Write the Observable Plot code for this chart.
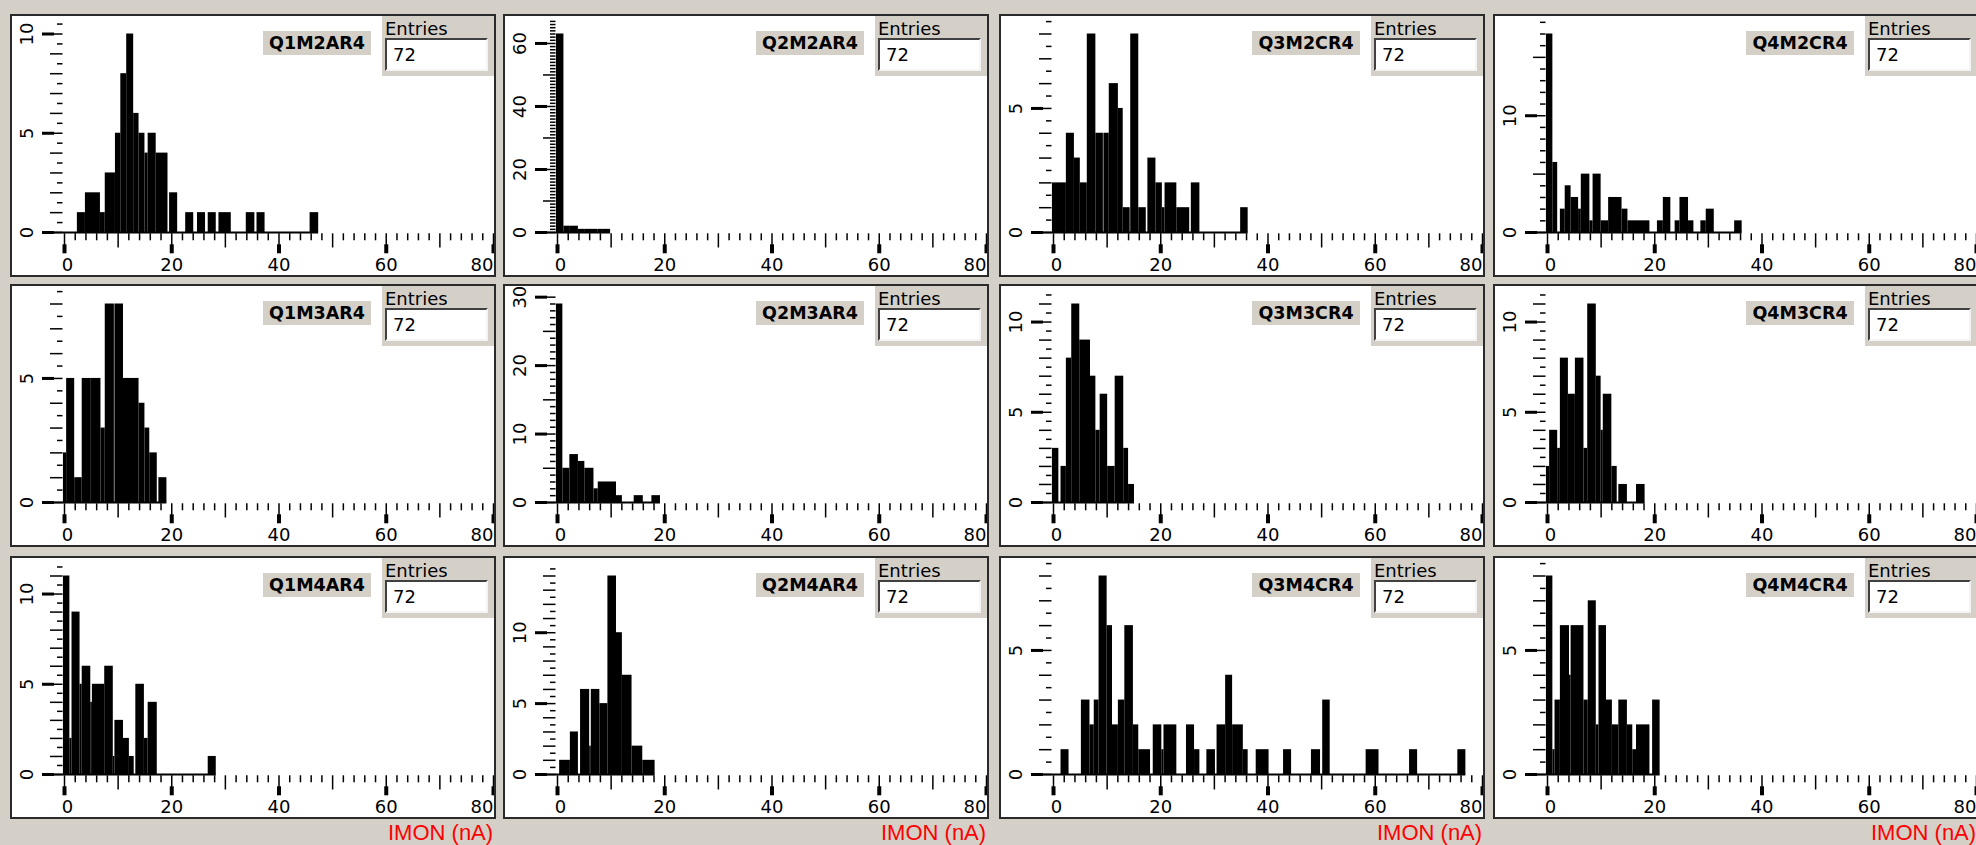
<!DOCTYPE html>
<html><head><meta charset="utf-8">
<script src="https://cdn.jsdelivr.net/npm/d3@7"></script>
<script src="https://cdn.jsdelivr.net/npm/@observablehq/plot@0.6"></script>
<style>
html,body{margin:0;padding:0;background:#d4d0c8;width:1976px;height:845px;overflow:hidden;font-family:"DejaVu Sans",sans-serif;}
.panel{position:absolute;width:486px;height:263px;background:#fff;overflow:hidden;}
.panel svg{position:absolute;left:0;top:0;}
.frame{position:absolute;left:0;top:0;width:486px;height:263px;box-sizing:border-box;border:2px solid #2a2a2a;pointer-events:none;}
.title{position:absolute;left:253px;top:17px;width:108px;height:24px;background:#d4d0c8;font:bold 17.5px "DejaVu Sans";line-height:24px;text-align:center;color:#000;white-space:nowrap;}
.stats{position:absolute;left:372px;top:2px;width:114px;height:60px;background:#d4d0c8;}
.stats .lbl{position:absolute;left:3px;top:4px;font:18px "DejaVu Sans";line-height:18px;color:#000;}
.stats .val{position:absolute;left:3px;top:22px;width:103px;height:33px;box-sizing:border-box;background:#fff;border-top:2px solid #404040;border-left:2px solid #404040;border-bottom:2px solid #f4f4f4;border-right:2px solid #f4f4f4;font:18px "DejaVu Sans";line-height:29px;padding-left:6px;color:#000;}
.xlabel{position:absolute;font:22px "Liberation Sans";color:#ff0000;line-height:22px;white-space:nowrap;}
</style></head><body>
<script>
// ---- data: histogram bars [low edge (nA), high edge (nA), entries] ----
const panelNames = ["Q1M2AR4","Q2M2AR4","Q3M2CR4","Q4M2CR4","Q1M3AR4","Q2M3AR4","Q3M3CR4","Q4M3CR4","Q1M4AR4","Q2M4AR4","Q3M4CR4","Q4M4CR4"];
const entryCounts = [72,72,72,72,72,72,72,72,72,72,72,72];
const xTickLabels = [0,20,40,60,80];
const yMajorSteps = [5,20,5,10,5,10,5,5,5,5,5,5];
const axisTitle = "IMON (nA)";

const Q1M2AR4 = [[2.4,3.9,1],[3.9,6.7,2],[6.7,7.6,1],[7.6,9.5,3],[9.5,10.5,5],[10.5,11.6,8],[11.6,12.9,10],[12.9,13.9,6],[13.9,15.0,5],[15.0,15.6,4],[15.6,17.1,5],[17.1,19.3,4],[19.6,21.1,2],[22.6,24.1,1],[24.8,26.3,1],[26.8,28.3,1],[28.8,31.1,1],[33.9,35.5,1],[35.9,37.4,1],[45.8,47.4,1]];
const Q2M2AR4 = [[-0.2,1.2,63],[1.2,2.4,2],[2.4,3.9,2],[3.9,5.2,1],[5.2,7.6,1],[7.6,8.4,1],[8.4,9.9,1]];
const Q3M2CR4 = [[-0.2,2.4,2],[2.4,3.9,4],[3.9,5.0,3],[5.0,6.3,2],[6.3,7.9,8],[7.9,9.3,4],[9.4,10.4,4],[10.4,12.1,6],[12.1,13.0,5],[13.0,14.3,1],[14.4,15.9,8],[15.9,17.3,1],[17.6,19.1,3],[19.1,20.3,2],[20.3,20.8,1],[20.8,23.0,2],[23.0,25.4,1],[25.7,27.3,2],[34.9,36.3,1]];
const Q4M2CR4 = [[-0.2,1.0,17],[1.0,1.9,6],[2.4,3.3,2],[3.3,4.4,4],[4.4,5.8,3],[5.8,6.3,2],[6.3,7.9,5],[7.9,8.5,1],[8.5,10.0,5],[10.0,11.4,1],[11.4,13.9,3],[13.9,15.0,2],[15.0,19.1,1],[20.5,21.6,1],[21.6,23.0,3],[23.8,24.7,1],[24.7,26.3,3],[26.3,27.3,1],[28.6,29.6,1],[29.6,31.1,2],[34.9,36.3,1]];
const Q1M3AR4 = [[-0.2,0.4,2],[0.4,1.9,5],[1.9,3.3,1],[3.3,5.0,5],[5.0,6.8,5],[6.8,7.6,3],[7.6,9.3,8],[9.4,11.0,8],[11.0,13.9,5],[13.9,15.0,4],[15.0,15.9,3],[15.9,17.3,2],[17.6,19.1,1]];
const Q2M3AR4 = [[-0.2,1.0,29],[1.0,2.3,5],[2.3,3.9,7],[3.9,5.1,6],[5.1,6.8,5],[6.8,7.6,2],[7.6,11.0,3],[11.0,12.1,1],[14.3,16.0,1],[17.6,19.2,1]];
const Q3M3CR4 = [[-0.2,1.0,3],[1.4,2.4,2],[2.4,3.4,8],[3.4,4.9,11],[4.9,6.9,9],[6.9,7.9,7],[7.9,8.7,4],[8.7,10.1,6],[10.1,11.5,2],[11.5,13.1,7],[13.1,14.0,3],[14.0,15.1,1]];
const Q4M3CR4 = [[-0.2,0.4,2],[0.4,1.9,4],[1.9,2.4,3],[2.4,3.9,8],[3.9,5.2,6],[5.2,6.8,8],[6.8,7.5,3],[7.5,9.1,11],[9.1,10.0,7],[10.0,10.4,4],[10.4,12.0,6],[12.0,13.0,2],[13.3,14.9,1],[16.6,18.2,1]];
const Q1M4AR4 = [[-0.2,1.0,11],[1.0,1.4,2],[1.4,2.9,9],[2.9,3.3,5],[3.3,4.9,6],[4.9,5.2,4],[5.2,7.5,5],[7.5,9.1,6],[9.1,9.4,1],[9.4,11.0,3],[11.0,12.1,2],[12.1,13.0,1],[13.3,14.9,5],[14.9,15.6,2],[15.6,17.3,4],[26.8,28.3,1]];
const Q2M4AR4 = [[0.4,2.4,1],[2.4,3.9,3],[4.3,6.0,6],[6.0,6.3,2],[6.3,7.9,6],[7.9,9.4,5],[9.4,11.0,14],[11.0,12.1,10],[12.1,13.9,7],[13.9,15.9,2],[15.9,18.2,1]];
const Q3M4CR4 = [[1.4,2.9,1],[5.2,6.8,3],[6.8,7.6,2],[7.6,8.5,3],[8.5,10.0,8],[10.0,11.0,6],[11.0,12.1,2],[12.1,13.3,3],[13.3,14.9,6],[14.9,15.9,2],[15.9,18.1,1],[18.6,20.2,2],[20.2,20.6,1],[20.6,23.0,2],[24.8,26.3,2],[26.3,27.3,1],[28.6,30.2,1],[30.5,32.1,2],[32.1,33.4,4],[33.4,35.4,2],[35.4,36.3,1],[37.8,40.2,1],[42.9,44.4,1],[48.1,49.8,1],[50.2,51.6,3],[58.3,60.7,1],[66.4,67.9,1],[75.4,76.9,1]];
const Q4M4CR4 = [[-0.2,1.0,8],[1.0,1.4,1],[1.4,2.4,3],[2.4,4.1,6],[4.1,4.4,4],[4.4,6.8,6],[6.8,7.6,3],[7.6,9.1,7],[9.1,9.6,2],[9.6,11.0,6],[11.0,12.1,3],[12.1,13.3,2],[13.3,14.9,3],[14.9,15.9,2],[15.9,16.6,1],[16.6,19.1,2],[19.6,21.0,3]];

const panelData = [Q1M2AR4,Q2M2AR4,Q3M2CR4,Q4M2CR4,Q1M3AR4,Q2M3AR4,Q3M3CR4,Q4M3CR4,Q1M4AR4,Q2M4AR4,Q3M4CR4,Q4M4CR4];

// ---- layout ----
const colLeft = [10, 503, 999, 1493];
const rowTop = [14, 284, 556];
const W = 486, H = 263, ML = 54, MR = 3, MT = 6, MB = 45;
const base = H - MB;          // baseline pixel (local)
const maxBarTop = 19.5;       // pixel where the tallest bar ends
const font = "DejaVu Sans";

function makePlot(data, M) {
  const max = d3.max(data, d => d[2]);
  const ky = (base - maxBarTop) / max;   // px per entry
  const yTop = (base - MT) / ky;
  const kx = (W - ML - MR) / 80;         // px per nA
  const yPx = p => -p / ky;              // p px below the baseline, as y value
  const xPx = p => p / kx;               // p px right of x = 0, as x value
  const longStep = M === 5 ? 1 : M / 2;
  const shortStep = M === 20 ? 1 : M / 10;
  const n = Math.floor(yTop / shortStep + 1e-6);
  const allY = d3.range(0, n + 1).map(i => +(i * shortStep).toFixed(6));
  const isMult = (v, s) => Math.abs(v / s - Math.round(v / s)) < 1e-6;
  const majors = allY.filter(v => isMult(v, M));
  const longs = allY.filter(v => isMult(v, longStep) && !isMult(v, M));
  const shorts = allY.filter(v => !isMult(v, longStep) && !isMult(v, M));
  const xMinor = d3.range(0, 81, 2).filter(v => v % 10 !== 0);
  const xDecade = [10, 30, 50, 70];
  const dataEnd = d3.max(data, d => d[1]);
  const lastLabel = xTickLabels[xTickLabels.length - 1];

  return Plot.plot({
    width: W, height: H,
    marginLeft: ML, marginRight: MR, marginTop: MT, marginBottom: MB,
    style: {background: "transparent", overflow: "visible"},
    x: {domain: [0, 80], axis: null},
    y: {domain: [0, yTop], axis: null},
    marks: [
      Plot.rectY(data, {x1: d => d[0], x2: d => d[1], y: d => d[2], fill: "black"}),
      Plot.ruleY([0], {x1: xPx(-22), x2: dataEnd, stroke: "black", strokeWidth: 2}),
      // y axis ticks
      Plot.ruleY(shorts, {x1: xPx(-7), x2: xPx(-1.5), stroke: "black", strokeWidth: 1.5}),
      Plot.ruleY([...longs, ...majors], {x1: xPx(-14), x2: xPx(-1.5), stroke: "black", strokeWidth: 1.5}),
      Plot.ruleY(majors, {x1: xPx(-22), x2: xPx(-10), stroke: "black", strokeWidth: 3}),
      Plot.text(majors, {x: xPx(-37), y: d => d, text: d => String(d), rotate: -90, fontSize: 18, fontFamily: font, fill: "black", textAnchor: "middle", lineAnchor: "middle"}),
      // x axis ticks
      Plot.ruleX(xMinor, {y1: yPx(1.3), y2: yPx(8.3), stroke: "black", strokeWidth: 1.5}),
      Plot.ruleX(xDecade, {y1: yPx(1.3), y2: yPx(15.5), stroke: "black", strokeWidth: 1.5}),
      Plot.ruleX(xTickLabels, {y1: yPx(1.3), y2: yPx(14), stroke: "black", strokeWidth: 1.5}),
      Plot.ruleX(xTickLabels, {y1: yPx(12.3), y2: yPx(21.3), stroke: "black", strokeWidth: 4}),
      Plot.text(xTickLabels.filter(v => v !== 0 && v !== lastLabel), {x: d => d, y: 0, dy: 33, text: d => String(d), fontSize: 18, fontFamily: font, fill: "black", lineAnchor: "middle"}),
      Plot.text([0], {x: d => d, y: 0, dy: 33, dx: 3, text: d => String(d), fontSize: 18, fontFamily: font, fill: "black", lineAnchor: "middle"}),
      Plot.text([lastLabel], {x: d => d, y: 0, dy: 33, text: d => String(d), fontSize: 18, fontFamily: font, fill: "black", lineAnchor: "middle", textAnchor: "end"})
    ]
  });
}

panelData.forEach((data, i) => {
  const col = i % 4, row = Math.floor(i / 4);
  const panel = document.createElement("div");
  panel.className = "panel";
  panel.style.left = colLeft[col] + "px";
  panel.style.top = rowTop[row] + "px";
  panel.appendChild(makePlot(data, yMajorSteps[i]));
  const title = document.createElement("div");
  title.className = "title";
  title.textContent = panelNames[i];
  panel.appendChild(title);
  const stats = document.createElement("div");
  stats.className = "stats";
  stats.innerHTML = `<div class="lbl">Entries</div><div class="val">${entryCounts[i]}</div>`;
  panel.appendChild(stats);
  const frame = document.createElement("div");
  frame.className = "frame";
  panel.appendChild(frame);
  document.body.appendChild(panel);
});

colLeft.forEach(l => {
  const lab = document.createElement("div");
  lab.className = "xlabel";
  lab.textContent = axisTitle;
  lab.style.left = (l + 484 - 106) + "px";
  lab.style.top = "822px";
  document.body.appendChild(lab);
});
</script></body></html>
